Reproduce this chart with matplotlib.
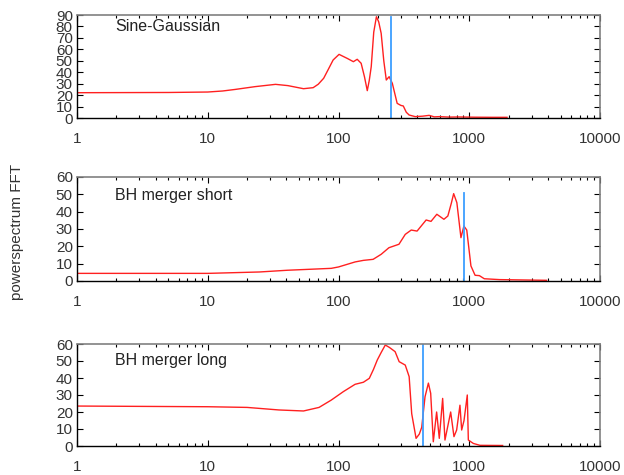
import matplotlib
matplotlib.use("Agg")
import matplotlib.pyplot as plt
from matplotlib.ticker import LogLocator, NullFormatter
import numpy as np

plt.rcParams['font.family'] = ['Liberation Sans', 'DejaVu Sans']

# Sine-Gaussian
sg_f = [1, 5, 10, 13, 16.3, 23, 33, 41, 54, 64, 70, 77, 84, 91, 101, 117, 130, 139, 149, 158, 166, 172,
        178, 186, 195, 203, 212, 222, 232, 244, 258, 281, 300, 313, 330, 347, 386, 440, 493, 540, 589,
        700, 836, 1100, 1500, 1945]
sg_p = [22.1, 22.3, 22.7, 23.6, 25, 27.4, 29.4, 28.3, 25.6, 26.5, 29.5, 34.7, 43, 50.7, 55.6, 52, 49.2,
        51.3, 47.8, 36, 23.9, 33, 44.9, 75, 88.5, 84, 74, 50, 33.2, 36.1, 30.3, 12.8, 11, 10.5, 5,
        2.6, 1.2, 1.6, 2.3, 1.0, 1.2, 0.8, 0.9, 0.7, 0.6, 0.6]
sg_cut = 251
sg_cut_top = 88.5

# BH merger short
bs_f = [1, 10, 24.8, 40.6, 66.5, 88, 100, 134, 155, 184, 212, 243, 290, 324, 360, 399, 468, 510,
        565, 640, 686, 730, 760, 804, 864, 910, 957, 1030, 1108, 1195, 1303, 1705, 3900]
bs_p = [4.4, 4.4, 5.2, 6.2, 6.9, 7.3, 8.1, 11, 11.9, 12.5, 15.4, 19.2, 21.2, 26.9, 29.4, 28.8, 35.2,
        34.4, 38.5, 35.6, 37.5, 45, 50.4, 45.2, 25, 31.7, 29.4, 8.7, 3.3, 3.1, 1.3, 0.8, 0.4]
bs_cut = 910
bs_cut_top = 51

# BH merger long
bl_f = [1, 10, 20, 35, 54, 71, 88, 109, 134, 155, 172, 185, 198, 212, 228, 245, 271, 291, 324, 347,
        363, 392, 415, 433, 459, 487, 507, 531, 563, 590, 626, 652, 721, 764, 801, 849, 875, 912, 966,
        984, 1075, 1208, 1800]
bl_p = [23.5, 23.1, 22.7, 21.2, 20.6, 22.7, 27, 32, 36.3, 37.5, 39.8, 45, 50.6, 55, 59.4, 58, 55.5,
        49.6, 47.6, 40.8, 19, 4.5, 7, 11, 29, 37, 31, 2.5, 20, 4.5, 28, 3.5, 20, 5.5, 9.4, 24, 9.4,
        15, 30, 3.5, 1.5, 0.4, 0.3]
bl_cut = 445
bl_cut_top = 60

panels = [
    ("Sine-Gaussian", sg_f, sg_p, sg_cut, sg_cut_top, 90, 10, 0.89),
    ("BH merger short", bs_f, bs_p, bs_cut, bs_cut_top, 60, 10, 0.82),
    ("BH merger long", bl_f, bl_p, bl_cut, bl_cut_top, 60, 10, 0.84),
]

W, H = 624, 475
fig = plt.figure(figsize=(W / 100, H / 100), dpi=100)
boxes = [(15, 118), (177, 281), (344, 446)]
left_px, right_px = 77, 600

tick_col = '#333333'
for (name, f, p, cut, cut_top, ymax, ystep, ty), (t, b) in zip(panels, boxes):
    ax = fig.add_axes([left_px / W, 1 - b / H, (right_px - left_px) / W, (b - t) / H])
    ax.plot(f, p, color='#ff2020', lw=1.0)
    ax.plot([cut, cut], [0, cut_top], color='#3d9eff', lw=1.3)
    ax.set_xscale('log')
    ax.set_xlim(1, 10000)
    ax.set_ylim(0, ymax)
    ax.set_yticks(np.arange(0, ymax + 1, ystep))
    ax.set_xticks([1, 10, 100, 1000, 10000])
    ax.set_xticklabels(['1', '10', '100', '1000', '10000'])
    ax.xaxis.set_minor_locator(LogLocator(base=10, subs=np.arange(2, 10)))
    ax.xaxis.set_minor_formatter(NullFormatter())
    ax.tick_params(axis='both', which='both', direction='in', top=True, right=True,
                   labelsize=11, labelcolor=tick_col, color='black')
    ax.tick_params(axis='both', which='major', length=4, width=0.8)
    ax.tick_params(axis='x', which='major', pad=10)
    ax.tick_params(axis='x', which='minor', length=2.5, width=0.8)
    ax.tick_params(axis='y', which='major', pad=3)
    for s in ['top', 'right']:
        ax.spines[s].set_color('#808080')
        ax.spines[s].set_linewidth(1.2)
    for s in ['left', 'bottom']:
        ax.spines[s].set_color('black')
        ax.spines[s].set_linewidth(1.0)
    ax.text(0.073, ty, name, transform=ax.transAxes, fontsize=11.5, color='#222222',
            va='center', ha='left')

fig.text(17 / W, 1 - 232 / H, 'powerspectrum FFT', rotation=90, fontsize=11,
         color='#333333', ha='center', va='center')

fig.savefig('out.png', dpi=100)
